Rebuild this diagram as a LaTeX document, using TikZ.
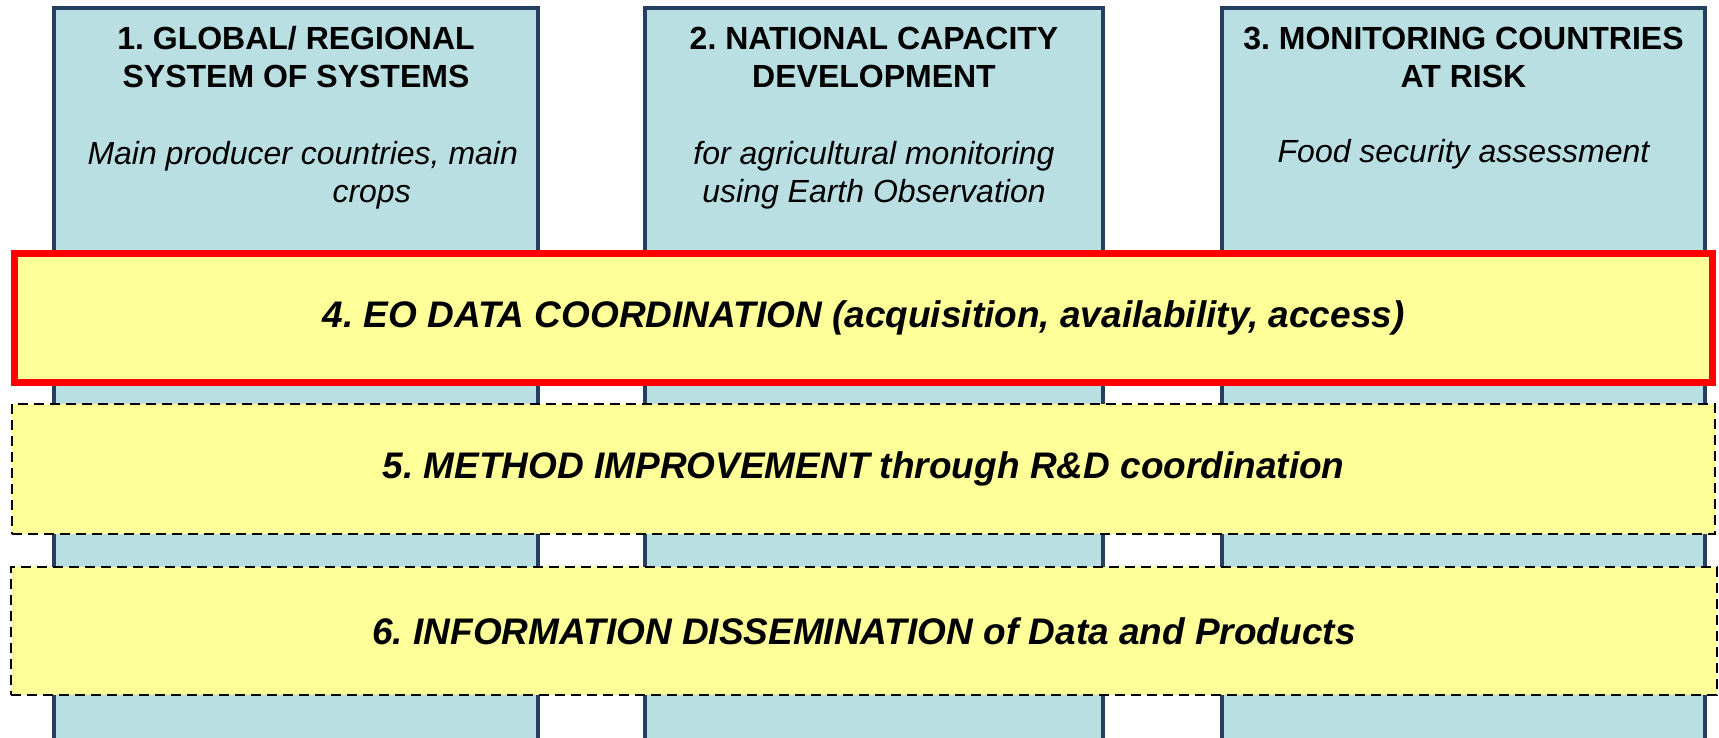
\documentclass[tikz,border=0pt]{standalone}
\usepackage{fontspec}
\setmainfont{Liberation Sans}
\usepackage{xcolor}
\usepackage{tikz}

\definecolor{paleblue}{HTML}{B9DFE3}
\definecolor{navy}{HTML}{243F60}
\definecolor{paleyellow}{HTML}{FFFF99}

\begin{document}
\frenchspacing
\begin{tikzpicture}[x=1pt,y=-1pt,
    pillar/.style={rectangle,draw=navy,fill=paleblue,line width=4pt,minimum width=#1,minimum height=752pt,inner sep=0pt},
    band/.style={rectangle,fill=paleyellow,minimum width=#1,inner sep=0pt,font=\fontsize{37}{44}\selectfont\bfseries\itshape},
    head/.style={align=center,font=\fontsize{32}{38}\selectfont\bfseries},
    sub/.style={align=center,font=\fontsize{32}{38}\selectfont\itshape}]
        \useasboundingbox (0,0) rectangle (1719,738);
        \clip (0,0) rectangle (1719,738);
        % the three pillars
        \node[pillar=484pt] (p1) at (296,384) {};
        \node[pillar=458pt] (p2) at (874,384) {};
        \node[pillar=483pt] (p3) at (1463.5,384) {};
        \node[head] (h1) at (296,57.5) {1. GLOBAL/ REGIONAL\\SYSTEM OF SYSTEMS};
        \node[head] (h2) at (874,57.5) {2. NATIONAL CAPACITY\\DEVELOPMENT};
        \node[head] (h3) at (1463.5,57.5) {3. MONITORING COUNTRIES\\AT RISK};
        \node[sub,align=left,anchor=west] (s1) at (84,175) {Main producer countries, main\\\hspace*{245pt}crops};
        \node[sub] (s2) at (874,175) {for agricultural monitoring\\using Earth Observation};
        \node[sub] (s3) at (1463.5,154) {Food security assessment};
        % the cross-cutting bands
        \node[band=1698pt,draw=red,line width=7pt,minimum height=129pt] (b4) at (863.5,318)
          {4. EO DATA COORDINATION (acquisition, availability, access)};
        \node[band=1703pt,draw=black,line width=2pt,dash pattern=on 10pt off 6pt,minimum height=130pt] (b5) at (863.5,469)
          {5. METHOD IMPROVEMENT through R\&D coordination};
        \node[band=1706pt,draw=black,line width=2pt,dash pattern=on 10pt off 6pt,minimum height=128pt] (b6) at (864,631)
          {6. INFORMATION DISSEMINATION of Data and Products};
      \end{tikzpicture}
\end{document}
